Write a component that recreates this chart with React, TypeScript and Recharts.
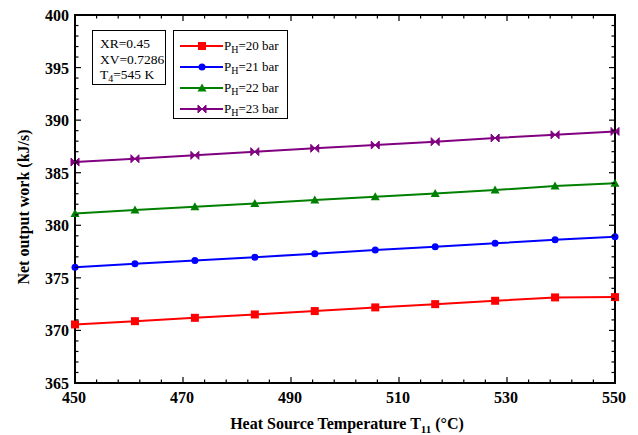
import React from 'react';
import { LineChart, Line, XAxis, YAxis, ReferenceArea } from 'recharts';

const temps = [450, 461.1, 472.2, 483.3, 494.4, 505.6, 516.7, 527.8, 538.9, 550];
const ph20 = [370.57, 370.88, 371.2, 371.52, 371.84, 372.19, 372.5, 372.82, 373.14, 373.17];
const ph21 = [376.0, 376.34, 376.66, 376.97, 377.29, 377.64, 377.96, 378.28, 378.62, 378.9];
const ph22 = [381.13, 381.45, 381.76, 382.08, 382.4, 382.71, 383.03, 383.35, 383.73, 384.0];
const ph23 = [386.01, 386.33, 386.65, 387.0, 387.32, 387.63, 387.95, 388.3, 388.61, 388.93];

const xTicks = Array.from({ length: 26 }, (_, i) => 450 + i * 4);
const yTicks = Array.from({ length: 36 }, (_, i) => 365 + i);

const data = temps.map((t, i) => ({ t, p20: ph20[i], p21: ph21[i], p22: ph22[i], p23: ph23[i] }));

const series = [
  { key: 'p20', name: '20', color: '#ff0000', shape: 'square' },
  { key: 'p21', name: '21', color: '#0000ff', shape: 'circle' },
  { key: 'p22', name: '22', color: '#008000', shape: 'triangle' },
  { key: 'p23', name: '23', color: '#800080', shape: 'bowtie' },
];

const W = 638;
const H = 435;
const TOP = 15;
const RIGHT = 615;
const FONT = '"Liberation Serif", "Times New Roman", serif';

function markerShape(shape: string, cx: number, cy: number, color: string) {
  if (shape === 'square') return <rect x={cx - 4} y={cy - 4} width={8} height={8} fill={color} />;
  if (shape === 'circle') return <circle cx={cx} cy={cy} r={3.5} fill={color} />;
  if (shape === 'triangle')
    return <path d={`M${cx},${cy - 4.5} L${cx + 4.5},${cy + 3.5} L${cx - 4.5},${cy + 3.5} Z`} fill={color} />;
  return (
    <path
      d={`M${cx - 4},${cy - 4} L${cx},${cy} L${cx - 4},${cy + 4} Z M${cx + 4},${cy - 4} L${cx},${cy} L${cx + 4},${cy + 4} Z`}
      fill={color}
      stroke={color}
      strokeWidth={1}
    />
  );
}

const makeDot = (shape: string, color: string) => (p: any) => (
  <g key={`${shape}-${p.index}`}>{markerShape(shape, p.cx, p.cy, color)}</g>
);

// bottom axis: inward ticks on bottom and top edges, labels every 20
const XTick = (props: any) => {
  const { x, y, payload } = props;
  const major = (payload.value - 450) % 20 === 0;
  const len = major ? 6 : 3.5;
  return (
    <g>
      <line x1={x} y1={y} x2={x} y2={y - len} stroke="#000" strokeWidth={1.2} />
      <line x1={x} y1={TOP} x2={x} y2={TOP + len} stroke="#000" strokeWidth={1.2} />
      {major && (
        <text x={x - 1} y={y + 20} textAnchor="middle" fontFamily={FONT} fontWeight="bold" fontSize={16} fill="#000">
          {payload.value}
        </text>
      )}
    </g>
  );
};

// left axis: inward ticks on left and right edges, labels every 5
const YTick = (props: any) => {
  const { x, y, payload } = props;
  const major = payload.value % 5 === 0;
  const len = major ? 6 : 3.5;
  return (
    <g>
      <line x1={x} y1={y} x2={x + len} y2={y} stroke="#000" strokeWidth={1.2} />
      <line x1={RIGHT} y1={y} x2={RIGHT - len} y2={y} stroke="#000" strokeWidth={1.2} />
      {major && (
        <text x={x - 6} y={y + 6} textAnchor="end" fontFamily={FONT} fontWeight="bold" fontSize={16} fill="#000">
          {payload.value}
        </text>
      )}
    </g>
  );
};

const SeriesKey = () => (
  <div
    style={{
      position: 'absolute',
      left: 173,
      top: 30,
      border: '1px solid #000',
      width: 115,
      height: 89,
      boxSizing: 'border-box',
      padding: '4px 0 0 6px',
      background: '#fff',
      fontFamily: FONT,
      fontSize: 13,
      color: '#000',
    }}
  >
    {series.map((s) => (
      <div key={s.key} style={{ display: 'flex', alignItems: 'center', height: 21 }}>
        <svg width={43} height={14} style={{ display: 'block' }}>
          <line x1={0} y1={7} x2={43} y2={7} stroke={s.color} strokeWidth={2} />
          {markerShape(s.shape, 22, 7, s.color)}
        </svg>
        <span style={{ marginLeft: 1, whiteSpace: 'nowrap' }}>
          P<sub style={{ fontSize: 10, verticalAlign: -3, lineHeight: 0 }}>H</sub>={s.name} bar
        </span>
      </div>
    ))}
  </div>
);

export default function App() {
  return (
    <div style={{ position: 'absolute', left: 0, top: 0, width: W, height: H, background: '#fff' }}>
      <LineChart width={W} height={H} data={data} margin={{ top: TOP, right: W - RIGHT, bottom: 0, left: 0 }}>
        <XAxis
          dataKey="t"
          type="number"
          domain={[450, 550]}
          ticks={xTicks}
          interval={0}
          height={52}
          tickSize={0}
          tickMargin={0}
          axisLine={false}
          tick={<XTick />}
          label={(p: any) => {
            const vb = p.viewBox;
            return (
              <text x={vb.x + vb.width / 2 + 2} y={429} textAnchor="middle" fontFamily={FONT} fontWeight="bold" fontSize={16} fill="#000">
                Heat Source Temperature T
                <tspan fontSize={11} dy={4}>11</tspan>
                <tspan dy={-4}> (°C)</tspan>
              </text>
            );
          }}
        />
        <YAxis
          type="number"
          domain={[365, 400]}
          ticks={yTicks}
          interval={0}
          width={75}
          tickSize={0}
          tickMargin={0}
          axisLine={false}
          tick={<YTick />}
          label={() => (
            <text
              x={23}
              y={207}
              transform="rotate(-90 23 207)"
              textAnchor="middle"
              dominantBaseline="central"
              fontFamily={FONT}
              fontWeight="bold"
              fontSize={16}
              fill="#000"
            >
              Net output work (kJ/s)
            </text>
          )}
        />
        <ReferenceArea x1={450} x2={550} y1={365} y2={400} fill="none" stroke="#000" strokeWidth={2} />
        {series.map((s) => (
          <Line
            key={s.key}
            dataKey={s.key}
            type="linear"
            stroke={s.color}
            strokeWidth={2}
            dot={makeDot(s.shape, s.color)}
            activeDot={false}
            isAnimationActive={false}
          />
        ))}
      </LineChart>
      <SeriesKey />
      <div
        style={{
          position: 'absolute',
          left: 92,
          top: 30,
          width: 74,
          height: 55,
          boxSizing: 'border-box',
          border: '1px solid #000',
          fontFamily: FONT,
          fontSize: 13.5,
          lineHeight: '15.5px',
          padding: '5px 0 0 7px',
          color: '#000',
          background: '#fff',
        }}
      >
        <div>XR=0.45</div>
        <div>XV=0.7286</div>
        <div>
          T<sub style={{ fontSize: 10, verticalAlign: -3, lineHeight: 0 }}>4</sub>=545 K
        </div>
      </div>
    </div>
  );
}
